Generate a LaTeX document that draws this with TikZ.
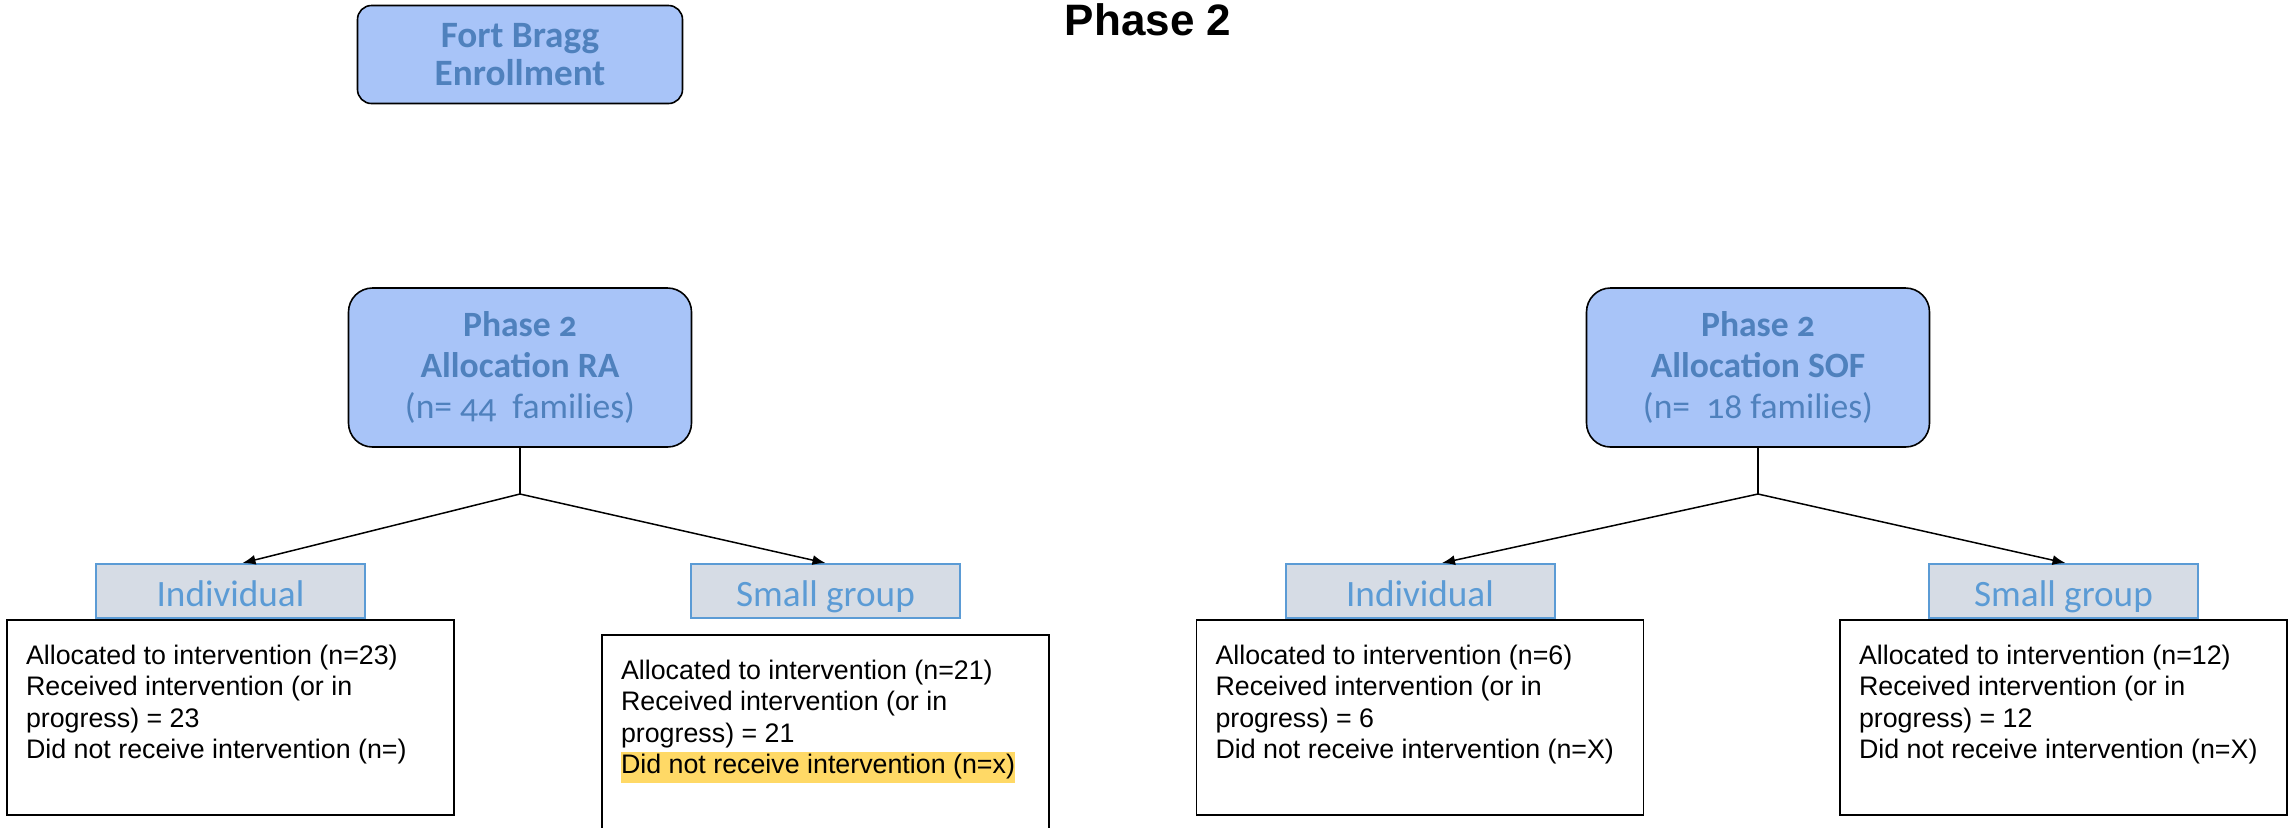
\documentclass[tikz,border=0pt]{standalone}
\usepackage{fontspec}
\setmainfont{Liberation Sans}
\newfontfamily\calibri{Carlito}[Numbers=OldStyle]
\usetikzlibrary{arrows.meta, positioning}
\definecolor{color1}{RGB}{168,196,248}
\definecolor{color2}{RGB}{79,129,189}
\definecolor{color3}{RGB}{214,220,229}
\definecolor{color4}{RGB}{91,155,213}
\definecolor{color5}{RGB}{255,217,102}
\newcommand{\cajaTexto}[1]{\parbox[c][72.5pt][t]{204.5pt}{\raggedright #1}}
\newcommand{\resaltar}[1]{{\setlength{\fboxsep}{0pt}\colorbox{color5}{\strut #1}}}

\begin{document}
\begin{tikzpicture}
        [
        x=0.5pt, y=-0.5pt,
            titulo/.style={
                anchor=base,
                font=\bfseries\fontsize{22pt}{26pt}\selectfont
            },
            asignacion/.style={
                rectangle,
                rounded corners=12pt,
                draw=black,
                line width=0.8pt,
                fill=color1,
                text=color2,
                align=center,
                minimum width=171.5pt,
                minimum height=79.5pt,
                font=\calibri\fontsize{17.8pt}{20.5pt}\selectfont
            },
            grupo/.style={
                rectangle,
                draw=color4,
                line width=1pt,
                fill=color3,
                text=color4,
                inner ysep=2pt,
                text height=17.5pt,
                text depth=2.5pt,
                minimum width=134.5pt,
                minimum height=27pt,
                font=\calibri\fontsize{18.6pt}{21pt}\selectfont
            },
            resultado/.style={
                rectangle,
                draw=black,
                line width=0.9pt,
                fill=white,
                inner xsep=9.5pt,
                inner ysep=12.5pt,
                font=\fontsize{13.4pt}{15.75pt}\selectfont
            },
            linea/.style={
                line width=0.75pt
            },
            flechaAccion/.style={
                -{Latex[length=6.5pt,width=5pt]},
                line width=0.75pt
            }
        ]
        \useasboundingbox (0,0) rectangle (2292,827);

        \node(fase) [titulo] at (1148,35) {Phase 2};
        \node(fort) [asignacion, rounded corners=7pt, minimum width=162.5pt, minimum height=49pt,
            font=\calibri\bfseries\fontsize{18.6pt}{19pt}\selectfont] at (520,54.5) {Fort Bragg\\Enrollment};

        \node(ra) [asignacion] at (520,367.5) {\textbf{Phase 2}\\\textbf{Allocation RA}\\(n= 44\ \ families)};
        \node(sof) [asignacion] at (1758,367.5) {\textbf{Phase 2}\\\textbf{Allocation SOF}\\(n=\ \ 18 families)};
        \coordinate(raSplit) at (520,494);
        \coordinate(sofSplit) at (1758,494);

        \node(raInd) [grupo] at (230.5,591) {Individual};
        \node(raGrp) [grupo] at (825.5,591) {Small group};
        \node(sofInd) [grupo] at (1420,591) {Individual};
        \node(sofGrp) [grupo] at (2063.5,591) {Small group};

        \node(raIndTxt) [resultado, below=0pt of raInd] {\cajaTexto{Allocated to intervention (n=23)\\
            Received intervention (or in\\progress) = 23\\Did not receive intervention (n=)}};
        \node(raGrpTxt) [resultado, below=7.5pt of raGrp] {\cajaTexto{Allocated to intervention (n=21)\\
            Received intervention (or in\\progress) = 21\\\resaltar{Did not receive intervention (n=x)}}};
        \node(sofIndTxt) [resultado, below=0pt of sofInd] {\cajaTexto{Allocated to intervention (n=6)\\
            Received intervention (or in\\progress) = 6\\Did not receive intervention (n=X)}};
        \node(sofGrpTxt) [resultado, below=0pt of sofGrp] {\cajaTexto{Allocated to intervention (n=12)\\
            Received intervention (or in\\progress) = 12\\Did not receive intervention (n=X)}};

        \draw[linea] (ra.south)--(raSplit);
        \draw[flechaAccion] (raSplit)--([xshift=6pt]raInd.north);
        \draw[flechaAccion] (raSplit)--(raGrp.north);
        \draw[linea] (sof.south)--(sofSplit);
        \draw[flechaAccion] (sofSplit)--([xshift=11pt]sofInd.north);
        \draw[flechaAccion] (sofSplit)--([xshift=1pt]sofGrp.north);
    \end{tikzpicture}
\end{document}
